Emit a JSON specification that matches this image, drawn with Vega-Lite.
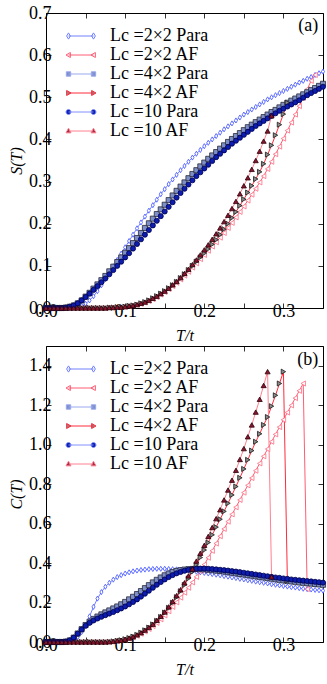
{
"$schema":"https://vega.github.io/schema/vega-lite/v6.json",
"padding":{"left":8,"top":3,"right":4,"bottom":4},
"spacing":1,
"config":{
 "font":"Liberation Serif",
 "view":{"stroke":"black","strokeWidth":1},
 "axis":{"domain":false,"grid":false,"tickColor":"black","tickSize":-5,"tickWidth":0.8,"labelFlush":false,"labelOverlap":false,"labelFont":"Liberation Serif","labelFontSize":18,"labelColor":"black","labelPadding":2,"titleFont":"Liberation Serif","titleFontSize":16,"titleFontStyle":"italic","titleFontWeight":"normal","titleColor":"black","titlePadding":4}
},
"datasets":{
"S":[
{"s":"P2","T":0,"v":0},{"s":"P2","T":0.005,"v":0},{"s":"P2","T":0.01,"v":0},{"s":"P2","T":0.015,"v":0},{"s":"P2","T":0.02,"v":0},{"s":"P2","T":0.025,"v":0},{"s":"P2","T":0.03,"v":0},{"s":"P2","T":0.035,"v":0.001},{"s":"P2","T":0.04,"v":0.002},{"s":"P2","T":0.045,"v":0.005},{"s":"P2","T":0.05,"v":0.01},{"s":"P2","T":0.055,"v":0.018},{"s":"P2","T":0.06,"v":0.028},{"s":"P2","T":0.065,"v":0.04},{"s":"P2","T":0.07,"v":0.054},{"s":"P2","T":0.075,"v":0.069},{"s":"P2","T":0.08,"v":0.084},{"s":"P2","T":0.085,"v":0.099},{"s":"P2","T":0.09,"v":0.114},{"s":"P2","T":0.095,"v":0.129},{"s":"P2","T":0.1,"v":0.144},{"s":"P2","T":0.105,"v":0.159},{"s":"P2","T":0.11,"v":0.174},{"s":"P2","T":0.115,"v":0.189},{"s":"P2","T":0.12,"v":0.203},{"s":"P2","T":0.125,"v":0.217},{"s":"P2","T":0.13,"v":0.231},{"s":"P2","T":0.135,"v":0.244},{"s":"P2","T":0.14,"v":0.257},{"s":"P2","T":0.145,"v":0.27},{"s":"P2","T":0.15,"v":0.282},{"s":"P2","T":0.155,"v":0.294},{"s":"P2","T":0.16,"v":0.305},{"s":"P2","T":0.165,"v":0.316},{"s":"P2","T":0.17,"v":0.327},{"s":"P2","T":0.175,"v":0.337},{"s":"P2","T":0.18,"v":0.347},{"s":"P2","T":0.185,"v":0.357},{"s":"P2","T":0.19,"v":0.366},{"s":"P2","T":0.195,"v":0.375},{"s":"P2","T":0.2,"v":0.384},{"s":"P2","T":0.205,"v":0.392},{"s":"P2","T":0.21,"v":0.4},{"s":"P2","T":0.215,"v":0.408},{"s":"P2","T":0.22,"v":0.416},{"s":"P2","T":0.225,"v":0.424},{"s":"P2","T":0.23,"v":0.431},{"s":"P2","T":0.235,"v":0.438},{"s":"P2","T":0.24,"v":0.445},{"s":"P2","T":0.245,"v":0.452},{"s":"P2","T":0.25,"v":0.459},{"s":"P2","T":0.255,"v":0.465},{"s":"P2","T":0.26,"v":0.471},{"s":"P2","T":0.265,"v":0.477},{"s":"P2","T":0.27,"v":0.483},{"s":"P2","T":0.275,"v":0.489},{"s":"P2","T":0.28,"v":0.495},{"s":"P2","T":0.285,"v":0.5},{"s":"P2","T":0.29,"v":0.505},{"s":"P2","T":0.295,"v":0.51},{"s":"P2","T":0.3,"v":0.515},{"s":"P2","T":0.305,"v":0.52},{"s":"P2","T":0.31,"v":0.525},{"s":"P2","T":0.315,"v":0.53},{"s":"P2","T":0.32,"v":0.535},{"s":"P2","T":0.325,"v":0.539},{"s":"P2","T":0.33,"v":0.544},{"s":"P2","T":0.335,"v":0.548},{"s":"P2","T":0.34,"v":0.553},{"s":"P2","T":0.345,"v":0.557},{"s":"P2","T":0.35,"v":0.561},
{"s":"A2","T":0,"v":0},{"s":"A2","T":0.005,"v":0},{"s":"A2","T":0.01,"v":0},{"s":"A2","T":0.015,"v":0},{"s":"A2","T":0.02,"v":0},{"s":"A2","T":0.025,"v":0},{"s":"A2","T":0.03,"v":0},{"s":"A2","T":0.035,"v":0},{"s":"A2","T":0.04,"v":0},{"s":"A2","T":0.045,"v":0},{"s":"A2","T":0.05,"v":0},{"s":"A2","T":0.055,"v":0},{"s":"A2","T":0.06,"v":0},{"s":"A2","T":0.065,"v":0},{"s":"A2","T":0.07,"v":0},{"s":"A2","T":0.075,"v":0},{"s":"A2","T":0.08,"v":0.001},{"s":"A2","T":0.085,"v":0.001},{"s":"A2","T":0.09,"v":0.002},{"s":"A2","T":0.095,"v":0.002},{"s":"A2","T":0.1,"v":0.003},{"s":"A2","T":0.105,"v":0.004},{"s":"A2","T":0.11,"v":0.006},{"s":"A2","T":0.115,"v":0.008},{"s":"A2","T":0.12,"v":0.01},{"s":"A2","T":0.125,"v":0.013},{"s":"A2","T":0.13,"v":0.017},{"s":"A2","T":0.135,"v":0.021},{"s":"A2","T":0.14,"v":0.026},{"s":"A2","T":0.145,"v":0.032},{"s":"A2","T":0.15,"v":0.038},{"s":"A2","T":0.155,"v":0.045},{"s":"A2","T":0.16,"v":0.052},{"s":"A2","T":0.165,"v":0.06},{"s":"A2","T":0.17,"v":0.068},{"s":"A2","T":0.175,"v":0.077},{"s":"A2","T":0.18,"v":0.086},{"s":"A2","T":0.185,"v":0.096},{"s":"A2","T":0.19,"v":0.106},{"s":"A2","T":0.195,"v":0.116},{"s":"A2","T":0.2,"v":0.126},{"s":"A2","T":0.205,"v":0.136},{"s":"A2","T":0.21,"v":0.146},{"s":"A2","T":0.215,"v":0.156},{"s":"A2","T":0.22,"v":0.167},{"s":"A2","T":0.225,"v":0.178},{"s":"A2","T":0.23,"v":0.19},{"s":"A2","T":0.235,"v":0.202},{"s":"A2","T":0.24,"v":0.215},{"s":"A2","T":0.245,"v":0.228},{"s":"A2","T":0.25,"v":0.241},{"s":"A2","T":0.255,"v":0.255},{"s":"A2","T":0.26,"v":0.269},{"s":"A2","T":0.265,"v":0.283},{"s":"A2","T":0.27,"v":0.298},{"s":"A2","T":0.275,"v":0.313},{"s":"A2","T":0.28,"v":0.33},{"s":"A2","T":0.285,"v":0.347},{"s":"A2","T":0.29,"v":0.365},{"s":"A2","T":0.295,"v":0.383},{"s":"A2","T":0.3,"v":0.402},{"s":"A2","T":0.305,"v":0.421},{"s":"A2","T":0.31,"v":0.44},{"s":"A2","T":0.315,"v":0.459},{"s":"A2","T":0.32,"v":0.479},{"s":"A2","T":0.325,"v":0.499},{"s":"A2","T":0.33,"v":0.519},{"s":"A2","T":0.335,"v":0.539},{"s":"A2","T":0.34,"v":0.553},
{"s":"P4","T":0,"v":0},{"s":"P4","T":0.005,"v":0},{"s":"P4","T":0.01,"v":0},{"s":"P4","T":0.015,"v":0},{"s":"P4","T":0.02,"v":0},{"s":"P4","T":0.025,"v":0.001},{"s":"P4","T":0.03,"v":0.003},{"s":"P4","T":0.035,"v":0.006},{"s":"P4","T":0.04,"v":0.011},{"s":"P4","T":0.045,"v":0.018},{"s":"P4","T":0.05,"v":0.027},{"s":"P4","T":0.055,"v":0.036},{"s":"P4","T":0.06,"v":0.046},{"s":"P4","T":0.065,"v":0.056},{"s":"P4","T":0.07,"v":0.066},{"s":"P4","T":0.075,"v":0.076},{"s":"P4","T":0.08,"v":0.087},{"s":"P4","T":0.085,"v":0.098},{"s":"P4","T":0.09,"v":0.109},{"s":"P4","T":0.095,"v":0.12},{"s":"P4","T":0.1,"v":0.131},{"s":"P4","T":0.105,"v":0.142},{"s":"P4","T":0.11,"v":0.154},{"s":"P4","T":0.115,"v":0.166},{"s":"P4","T":0.12,"v":0.178},{"s":"P4","T":0.125,"v":0.19},{"s":"P4","T":0.13,"v":0.201},{"s":"P4","T":0.135,"v":0.212},{"s":"P4","T":0.14,"v":0.223},{"s":"P4","T":0.145,"v":0.234},{"s":"P4","T":0.15,"v":0.245},{"s":"P4","T":0.155,"v":0.256},{"s":"P4","T":0.16,"v":0.267},{"s":"P4","T":0.165,"v":0.278},{"s":"P4","T":0.17,"v":0.288},{"s":"P4","T":0.175,"v":0.298},{"s":"P4","T":0.18,"v":0.308},{"s":"P4","T":0.185,"v":0.318},{"s":"P4","T":0.19,"v":0.327},{"s":"P4","T":0.195,"v":0.336},{"s":"P4","T":0.2,"v":0.345},{"s":"P4","T":0.205,"v":0.354},{"s":"P4","T":0.21,"v":0.362},{"s":"P4","T":0.215,"v":0.37},{"s":"P4","T":0.22,"v":0.378},{"s":"P4","T":0.225,"v":0.386},{"s":"P4","T":0.23,"v":0.394},{"s":"P4","T":0.235,"v":0.401},{"s":"P4","T":0.24,"v":0.408},{"s":"P4","T":0.245,"v":0.415},{"s":"P4","T":0.25,"v":0.422},{"s":"P4","T":0.255,"v":0.429},{"s":"P4","T":0.26,"v":0.435},{"s":"P4","T":0.265,"v":0.441},{"s":"P4","T":0.27,"v":0.447},{"s":"P4","T":0.275,"v":0.453},{"s":"P4","T":0.28,"v":0.459},{"s":"P4","T":0.285,"v":0.465},{"s":"P4","T":0.29,"v":0.47},{"s":"P4","T":0.295,"v":0.476},{"s":"P4","T":0.3,"v":0.482},{"s":"P4","T":0.305,"v":0.487},{"s":"P4","T":0.31,"v":0.492},{"s":"P4","T":0.315,"v":0.497},{"s":"P4","T":0.32,"v":0.502},{"s":"P4","T":0.325,"v":0.507},{"s":"P4","T":0.33,"v":0.512},{"s":"P4","T":0.335,"v":0.517},{"s":"P4","T":0.34,"v":0.522},{"s":"P4","T":0.345,"v":0.527},{"s":"P4","T":0.35,"v":0.532},
{"s":"A4","T":0,"v":0},{"s":"A4","T":0.005,"v":0},{"s":"A4","T":0.01,"v":0},{"s":"A4","T":0.015,"v":0},{"s":"A4","T":0.02,"v":0},{"s":"A4","T":0.025,"v":0},{"s":"A4","T":0.03,"v":0},{"s":"A4","T":0.035,"v":0},{"s":"A4","T":0.04,"v":0},{"s":"A4","T":0.045,"v":0},{"s":"A4","T":0.05,"v":0},{"s":"A4","T":0.055,"v":0},{"s":"A4","T":0.06,"v":0},{"s":"A4","T":0.065,"v":0},{"s":"A4","T":0.07,"v":0},{"s":"A4","T":0.075,"v":0},{"s":"A4","T":0.08,"v":0.001},{"s":"A4","T":0.085,"v":0.001},{"s":"A4","T":0.09,"v":0.002},{"s":"A4","T":0.095,"v":0.002},{"s":"A4","T":0.1,"v":0.003},{"s":"A4","T":0.105,"v":0.005},{"s":"A4","T":0.11,"v":0.006},{"s":"A4","T":0.115,"v":0.008},{"s":"A4","T":0.12,"v":0.011},{"s":"A4","T":0.125,"v":0.014},{"s":"A4","T":0.13,"v":0.018},{"s":"A4","T":0.135,"v":0.023},{"s":"A4","T":0.14,"v":0.028},{"s":"A4","T":0.145,"v":0.034},{"s":"A4","T":0.15,"v":0.04},{"s":"A4","T":0.155,"v":0.047},{"s":"A4","T":0.16,"v":0.054},{"s":"A4","T":0.165,"v":0.062},{"s":"A4","T":0.17,"v":0.071},{"s":"A4","T":0.175,"v":0.08},{"s":"A4","T":0.18,"v":0.09},{"s":"A4","T":0.185,"v":0.1},{"s":"A4","T":0.19,"v":0.11},{"s":"A4","T":0.195,"v":0.12},{"s":"A4","T":0.2,"v":0.13},{"s":"A4","T":0.205,"v":0.14},{"s":"A4","T":0.21,"v":0.151},{"s":"A4","T":0.215,"v":0.162},{"s":"A4","T":0.22,"v":0.174},{"s":"A4","T":0.225,"v":0.187},{"s":"A4","T":0.23,"v":0.2},{"s":"A4","T":0.235,"v":0.214},{"s":"A4","T":0.24,"v":0.228},{"s":"A4","T":0.245,"v":0.243},{"s":"A4","T":0.25,"v":0.258},{"s":"A4","T":0.255,"v":0.274},{"s":"A4","T":0.26,"v":0.29},{"s":"A4","T":0.265,"v":0.306},{"s":"A4","T":0.27,"v":0.323},{"s":"A4","T":0.275,"v":0.342},{"s":"A4","T":0.28,"v":0.364},{"s":"A4","T":0.285,"v":0.386},{"s":"A4","T":0.29,"v":0.41},{"s":"A4","T":0.295,"v":0.435},{"s":"A4","T":0.3,"v":0.46},{"s":"A4","T":0.305,"v":0.487},
{"s":"P10","T":0,"v":0},{"s":"P10","T":0.005,"v":0},{"s":"P10","T":0.01,"v":0},{"s":"P10","T":0.015,"v":0},{"s":"P10","T":0.02,"v":0},{"s":"P10","T":0.025,"v":0.001},{"s":"P10","T":0.03,"v":0.003},{"s":"P10","T":0.035,"v":0.006},{"s":"P10","T":0.04,"v":0.011},{"s":"P10","T":0.045,"v":0.018},{"s":"P10","T":0.05,"v":0.026},{"s":"P10","T":0.055,"v":0.034},{"s":"P10","T":0.06,"v":0.043},{"s":"P10","T":0.065,"v":0.052},{"s":"P10","T":0.07,"v":0.061},{"s":"P10","T":0.075,"v":0.07},{"s":"P10","T":0.08,"v":0.08},{"s":"P10","T":0.085,"v":0.09},{"s":"P10","T":0.09,"v":0.1},{"s":"P10","T":0.095,"v":0.11},{"s":"P10","T":0.1,"v":0.12},{"s":"P10","T":0.105,"v":0.13},{"s":"P10","T":0.11,"v":0.141},{"s":"P10","T":0.115,"v":0.152},{"s":"P10","T":0.12,"v":0.163},{"s":"P10","T":0.125,"v":0.174},{"s":"P10","T":0.13,"v":0.185},{"s":"P10","T":0.135,"v":0.196},{"s":"P10","T":0.14,"v":0.207},{"s":"P10","T":0.145,"v":0.218},{"s":"P10","T":0.15,"v":0.229},{"s":"P10","T":0.155,"v":0.24},{"s":"P10","T":0.16,"v":0.251},{"s":"P10","T":0.165,"v":0.262},{"s":"P10","T":0.17,"v":0.273},{"s":"P10","T":0.175,"v":0.283},{"s":"P10","T":0.18,"v":0.293},{"s":"P10","T":0.185,"v":0.303},{"s":"P10","T":0.19,"v":0.313},{"s":"P10","T":0.195,"v":0.322},{"s":"P10","T":0.2,"v":0.331},{"s":"P10","T":0.205,"v":0.34},{"s":"P10","T":0.21,"v":0.349},{"s":"P10","T":0.215,"v":0.358},{"s":"P10","T":0.22,"v":0.366},{"s":"P10","T":0.225,"v":0.374},{"s":"P10","T":0.23,"v":0.382},{"s":"P10","T":0.235,"v":0.39},{"s":"P10","T":0.24,"v":0.397},{"s":"P10","T":0.245,"v":0.404},{"s":"P10","T":0.25,"v":0.411},{"s":"P10","T":0.255,"v":0.418},{"s":"P10","T":0.26,"v":0.425},{"s":"P10","T":0.265,"v":0.432},{"s":"P10","T":0.27,"v":0.438},{"s":"P10","T":0.275,"v":0.444},{"s":"P10","T":0.28,"v":0.45},{"s":"P10","T":0.285,"v":0.456},{"s":"P10","T":0.29,"v":0.462},{"s":"P10","T":0.295,"v":0.468},{"s":"P10","T":0.3,"v":0.473},{"s":"P10","T":0.305,"v":0.478},{"s":"P10","T":0.31,"v":0.483},{"s":"P10","T":0.315,"v":0.488},{"s":"P10","T":0.32,"v":0.493},{"s":"P10","T":0.325,"v":0.499},{"s":"P10","T":0.33,"v":0.505},{"s":"P10","T":0.335,"v":0.51},{"s":"P10","T":0.34,"v":0.515},{"s":"P10","T":0.345,"v":0.52},{"s":"P10","T":0.35,"v":0.525},
{"s":"A10","T":0,"v":0},{"s":"A10","T":0.005,"v":0},{"s":"A10","T":0.01,"v":0},{"s":"A10","T":0.015,"v":0},{"s":"A10","T":0.02,"v":0},{"s":"A10","T":0.025,"v":0},{"s":"A10","T":0.03,"v":0},{"s":"A10","T":0.035,"v":0},{"s":"A10","T":0.04,"v":0},{"s":"A10","T":0.045,"v":0},{"s":"A10","T":0.05,"v":0},{"s":"A10","T":0.055,"v":0},{"s":"A10","T":0.06,"v":0},{"s":"A10","T":0.065,"v":0},{"s":"A10","T":0.07,"v":0},{"s":"A10","T":0.075,"v":0},{"s":"A10","T":0.08,"v":0.001},{"s":"A10","T":0.085,"v":0.001},{"s":"A10","T":0.09,"v":0.002},{"s":"A10","T":0.095,"v":0.002},{"s":"A10","T":0.1,"v":0.003},{"s":"A10","T":0.105,"v":0.005},{"s":"A10","T":0.11,"v":0.006},{"s":"A10","T":0.115,"v":0.008},{"s":"A10","T":0.12,"v":0.011},{"s":"A10","T":0.125,"v":0.014},{"s":"A10","T":0.13,"v":0.018},{"s":"A10","T":0.135,"v":0.023},{"s":"A10","T":0.14,"v":0.028},{"s":"A10","T":0.145,"v":0.034},{"s":"A10","T":0.15,"v":0.04},{"s":"A10","T":0.155,"v":0.047},{"s":"A10","T":0.16,"v":0.055},{"s":"A10","T":0.165,"v":0.063},{"s":"A10","T":0.17,"v":0.072},{"s":"A10","T":0.175,"v":0.082},{"s":"A10","T":0.18,"v":0.092},{"s":"A10","T":0.185,"v":0.103},{"s":"A10","T":0.19,"v":0.114},{"s":"A10","T":0.195,"v":0.126},{"s":"A10","T":0.2,"v":0.138},{"s":"A10","T":0.205,"v":0.15},{"s":"A10","T":0.21,"v":0.163},{"s":"A10","T":0.215,"v":0.176},{"s":"A10","T":0.22,"v":0.19},{"s":"A10","T":0.225,"v":0.205},{"s":"A10","T":0.23,"v":0.22},{"s":"A10","T":0.235,"v":0.236},{"s":"A10","T":0.24,"v":0.253},{"s":"A10","T":0.245,"v":0.271},{"s":"A10","T":0.25,"v":0.29},{"s":"A10","T":0.255,"v":0.309},{"s":"A10","T":0.26,"v":0.329},{"s":"A10","T":0.265,"v":0.35},{"s":"A10","T":0.27,"v":0.372},{"s":"A10","T":0.275,"v":0.396},{"s":"A10","T":0.28,"v":0.42},{"s":"A10","T":0.285,"v":0.456}
],
"C":[
{"s":"P2","T":0,"v":0},{"s":"P2","T":0.005,"v":0},{"s":"P2","T":0.01,"v":0},{"s":"P2","T":0.015,"v":0},{"s":"P2","T":0.02,"v":0},{"s":"P2","T":0.025,"v":0},{"s":"P2","T":0.03,"v":0.002},{"s":"P2","T":0.035,"v":0.008},{"s":"P2","T":0.04,"v":0.025},{"s":"P2","T":0.045,"v":0.05},{"s":"P2","T":0.05,"v":0.085},{"s":"P2","T":0.055,"v":0.13},{"s":"P2","T":0.06,"v":0.178},{"s":"P2","T":0.065,"v":0.22},{"s":"P2","T":0.07,"v":0.253},{"s":"P2","T":0.075,"v":0.28},{"s":"P2","T":0.08,"v":0.3},{"s":"P2","T":0.085,"v":0.316},{"s":"P2","T":0.09,"v":0.329},{"s":"P2","T":0.095,"v":0.339},{"s":"P2","T":0.1,"v":0.347},{"s":"P2","T":0.105,"v":0.353},{"s":"P2","T":0.11,"v":0.358},{"s":"P2","T":0.115,"v":0.362},{"s":"P2","T":0.12,"v":0.365},{"s":"P2","T":0.125,"v":0.367},{"s":"P2","T":0.13,"v":0.369},{"s":"P2","T":0.135,"v":0.37},{"s":"P2","T":0.14,"v":0.371},{"s":"P2","T":0.145,"v":0.371},{"s":"P2","T":0.15,"v":0.371},{"s":"P2","T":0.155,"v":0.37},{"s":"P2","T":0.16,"v":0.369},{"s":"P2","T":0.165,"v":0.368},{"s":"P2","T":0.17,"v":0.366},{"s":"P2","T":0.175,"v":0.364},{"s":"P2","T":0.18,"v":0.362},{"s":"P2","T":0.185,"v":0.359},{"s":"P2","T":0.19,"v":0.356},{"s":"P2","T":0.195,"v":0.353},{"s":"P2","T":0.2,"v":0.35},{"s":"P2","T":0.205,"v":0.347},{"s":"P2","T":0.21,"v":0.344},{"s":"P2","T":0.215,"v":0.341},{"s":"P2","T":0.22,"v":0.338},{"s":"P2","T":0.225,"v":0.334},{"s":"P2","T":0.23,"v":0.331},{"s":"P2","T":0.235,"v":0.327},{"s":"P2","T":0.24,"v":0.324},{"s":"P2","T":0.245,"v":0.32},{"s":"P2","T":0.25,"v":0.317},{"s":"P2","T":0.255,"v":0.313},{"s":"P2","T":0.26,"v":0.31},{"s":"P2","T":0.265,"v":0.306},{"s":"P2","T":0.27,"v":0.303},{"s":"P2","T":0.275,"v":0.3},{"s":"P2","T":0.28,"v":0.297},{"s":"P2","T":0.285,"v":0.293},{"s":"P2","T":0.29,"v":0.29},{"s":"P2","T":0.295,"v":0.287},{"s":"P2","T":0.3,"v":0.284},{"s":"P2","T":0.305,"v":0.281},{"s":"P2","T":0.31,"v":0.278},{"s":"P2","T":0.315,"v":0.276},{"s":"P2","T":0.32,"v":0.273},{"s":"P2","T":0.325,"v":0.27},{"s":"P2","T":0.33,"v":0.268},{"s":"P2","T":0.335,"v":0.266},{"s":"P2","T":0.34,"v":0.264},{"s":"P2","T":0.345,"v":0.262},{"s":"P2","T":0.35,"v":0.26},
{"s":"A2","T":0,"v":0},{"s":"A2","T":0.005,"v":0},{"s":"A2","T":0.01,"v":0},{"s":"A2","T":0.015,"v":0},{"s":"A2","T":0.02,"v":0},{"s":"A2","T":0.025,"v":0},{"s":"A2","T":0.03,"v":0},{"s":"A2","T":0.035,"v":0},{"s":"A2","T":0.04,"v":0},{"s":"A2","T":0.045,"v":0},{"s":"A2","T":0.05,"v":0},{"s":"A2","T":0.055,"v":0},{"s":"A2","T":0.06,"v":0},{"s":"A2","T":0.065,"v":0},{"s":"A2","T":0.07,"v":0},{"s":"A2","T":0.075,"v":0},{"s":"A2","T":0.08,"v":0.001},{"s":"A2","T":0.085,"v":0.002},{"s":"A2","T":0.09,"v":0.005},{"s":"A2","T":0.095,"v":0.008},{"s":"A2","T":0.1,"v":0.012},{"s":"A2","T":0.105,"v":0.017},{"s":"A2","T":0.11,"v":0.024},{"s":"A2","T":0.115,"v":0.032},{"s":"A2","T":0.12,"v":0.042},{"s":"A2","T":0.125,"v":0.053},{"s":"A2","T":0.13,"v":0.066},{"s":"A2","T":0.135,"v":0.081},{"s":"A2","T":0.14,"v":0.097},{"s":"A2","T":0.145,"v":0.115},{"s":"A2","T":0.15,"v":0.135},{"s":"A2","T":0.155,"v":0.156},{"s":"A2","T":0.16,"v":0.178},{"s":"A2","T":0.165,"v":0.201},{"s":"A2","T":0.17,"v":0.225},{"s":"A2","T":0.175,"v":0.25},{"s":"A2","T":0.18,"v":0.275},{"s":"A2","T":0.185,"v":0.302},{"s":"A2","T":0.19,"v":0.33},{"s":"A2","T":0.195,"v":0.36},{"s":"A2","T":0.2,"v":0.392},{"s":"A2","T":0.205,"v":0.427},{"s":"A2","T":0.21,"v":0.462},{"s":"A2","T":0.215,"v":0.499},{"s":"A2","T":0.22,"v":0.536},{"s":"A2","T":0.225,"v":0.573},{"s":"A2","T":0.23,"v":0.61},{"s":"A2","T":0.235,"v":0.647},{"s":"A2","T":0.24,"v":0.683},{"s":"A2","T":0.245,"v":0.72},{"s":"A2","T":0.25,"v":0.757},{"s":"A2","T":0.255,"v":0.794},{"s":"A2","T":0.26,"v":0.831},{"s":"A2","T":0.265,"v":0.868},{"s":"A2","T":0.27,"v":0.905},{"s":"A2","T":0.275,"v":0.941},{"s":"A2","T":0.28,"v":0.978},{"s":"A2","T":0.285,"v":1.015},{"s":"A2","T":0.29,"v":1.052},{"s":"A2","T":0.295,"v":1.089},{"s":"A2","T":0.3,"v":1.126},{"s":"A2","T":0.305,"v":1.163},{"s":"A2","T":0.31,"v":1.199},{"s":"A2","T":0.315,"v":1.236},{"s":"A2","T":0.32,"v":1.273},{"s":"A2","T":0.325,"v":1.31},{"s":"A2","T":0.33,"v":0.268},
{"s":"P4","T":0,"v":0},{"s":"P4","T":0.005,"v":0},{"s":"P4","T":0.01,"v":0},{"s":"P4","T":0.015,"v":0},{"s":"P4","T":0.02,"v":0},{"s":"P4","T":0.025,"v":0.002},{"s":"P4","T":0.03,"v":0.008},{"s":"P4","T":0.035,"v":0.022},{"s":"P4","T":0.04,"v":0.043},{"s":"P4","T":0.045,"v":0.065},{"s":"P4","T":0.05,"v":0.086},{"s":"P4","T":0.055,"v":0.103},{"s":"P4","T":0.06,"v":0.117},{"s":"P4","T":0.065,"v":0.129},{"s":"P4","T":0.07,"v":0.14},{"s":"P4","T":0.075,"v":0.15},{"s":"P4","T":0.08,"v":0.16},{"s":"P4","T":0.085,"v":0.17},{"s":"P4","T":0.09,"v":0.18},{"s":"P4","T":0.095,"v":0.191},{"s":"P4","T":0.1,"v":0.203},{"s":"P4","T":0.105,"v":0.216},{"s":"P4","T":0.11,"v":0.229},{"s":"P4","T":0.115,"v":0.243},{"s":"P4","T":0.12,"v":0.258},{"s":"P4","T":0.125,"v":0.273},{"s":"P4","T":0.13,"v":0.288},{"s":"P4","T":0.135,"v":0.302},{"s":"P4","T":0.14,"v":0.315},{"s":"P4","T":0.145,"v":0.327},{"s":"P4","T":0.15,"v":0.338},{"s":"P4","T":0.155,"v":0.347},{"s":"P4","T":0.16,"v":0.354},{"s":"P4","T":0.165,"v":0.36},{"s":"P4","T":0.17,"v":0.364},{"s":"P4","T":0.175,"v":0.367},{"s":"P4","T":0.18,"v":0.369},{"s":"P4","T":0.185,"v":0.37},{"s":"P4","T":0.19,"v":0.37},{"s":"P4","T":0.195,"v":0.369},{"s":"P4","T":0.2,"v":0.368},{"s":"P4","T":0.205,"v":0.366},{"s":"P4","T":0.21,"v":0.364},{"s":"P4","T":0.215,"v":0.362},{"s":"P4","T":0.22,"v":0.36},{"s":"P4","T":0.225,"v":0.357},{"s":"P4","T":0.23,"v":0.354},{"s":"P4","T":0.235,"v":0.351},{"s":"P4","T":0.24,"v":0.348},{"s":"P4","T":0.245,"v":0.345},{"s":"P4","T":0.25,"v":0.342},{"s":"P4","T":0.255,"v":0.339},{"s":"P4","T":0.26,"v":0.336},{"s":"P4","T":0.265,"v":0.333},{"s":"P4","T":0.27,"v":0.33},{"s":"P4","T":0.275,"v":0.327},{"s":"P4","T":0.28,"v":0.324},{"s":"P4","T":0.285,"v":0.321},{"s":"P4","T":0.29,"v":0.318},{"s":"P4","T":0.295,"v":0.315},{"s":"P4","T":0.3,"v":0.312},{"s":"P4","T":0.305,"v":0.31},{"s":"P4","T":0.31,"v":0.307},{"s":"P4","T":0.315,"v":0.305},{"s":"P4","T":0.32,"v":0.302},{"s":"P4","T":0.325,"v":0.3},{"s":"P4","T":0.33,"v":0.298},{"s":"P4","T":0.335,"v":0.296},{"s":"P4","T":0.34,"v":0.294},{"s":"P4","T":0.345,"v":0.292},{"s":"P4","T":0.35,"v":0.29},
{"s":"A4","T":0,"v":0},{"s":"A4","T":0.005,"v":0},{"s":"A4","T":0.01,"v":0},{"s":"A4","T":0.015,"v":0},{"s":"A4","T":0.02,"v":0},{"s":"A4","T":0.025,"v":0},{"s":"A4","T":0.03,"v":0},{"s":"A4","T":0.035,"v":0},{"s":"A4","T":0.04,"v":0},{"s":"A4","T":0.045,"v":0},{"s":"A4","T":0.05,"v":0},{"s":"A4","T":0.055,"v":0},{"s":"A4","T":0.06,"v":0},{"s":"A4","T":0.065,"v":0},{"s":"A4","T":0.07,"v":0},{"s":"A4","T":0.075,"v":0},{"s":"A4","T":0.08,"v":0.001},{"s":"A4","T":0.085,"v":0.003},{"s":"A4","T":0.09,"v":0.006},{"s":"A4","T":0.095,"v":0.009},{"s":"A4","T":0.1,"v":0.014},{"s":"A4","T":0.105,"v":0.02},{"s":"A4","T":0.11,"v":0.027},{"s":"A4","T":0.115,"v":0.036},{"s":"A4","T":0.12,"v":0.047},{"s":"A4","T":0.125,"v":0.059},{"s":"A4","T":0.13,"v":0.073},{"s":"A4","T":0.135,"v":0.089},{"s":"A4","T":0.14,"v":0.107},{"s":"A4","T":0.145,"v":0.127},{"s":"A4","T":0.15,"v":0.149},{"s":"A4","T":0.155,"v":0.173},{"s":"A4","T":0.16,"v":0.199},{"s":"A4","T":0.165,"v":0.227},{"s":"A4","T":0.17,"v":0.257},{"s":"A4","T":0.175,"v":0.289},{"s":"A4","T":0.18,"v":0.322},{"s":"A4","T":0.185,"v":0.356},{"s":"A4","T":0.19,"v":0.391},{"s":"A4","T":0.195,"v":0.428},{"s":"A4","T":0.2,"v":0.466},{"s":"A4","T":0.205,"v":0.504},{"s":"A4","T":0.21,"v":0.543},{"s":"A4","T":0.215,"v":0.582},{"s":"A4","T":0.22,"v":0.622},{"s":"A4","T":0.225,"v":0.662},{"s":"A4","T":0.23,"v":0.703},{"s":"A4","T":0.235,"v":0.745},{"s":"A4","T":0.24,"v":0.788},{"s":"A4","T":0.245,"v":0.832},{"s":"A4","T":0.25,"v":0.877},{"s":"A4","T":0.255,"v":0.923},{"s":"A4","T":0.26,"v":0.97},{"s":"A4","T":0.265,"v":1.015},{"s":"A4","T":0.27,"v":1.055},{"s":"A4","T":0.275,"v":1.1},{"s":"A4","T":0.28,"v":1.14},{"s":"A4","T":0.285,"v":1.195},{"s":"A4","T":0.29,"v":1.25},{"s":"A4","T":0.295,"v":1.31},{"s":"A4","T":0.3,"v":1.37},{"s":"A4","T":0.305,"v":0.31},
{"s":"P10","T":0,"v":0},{"s":"P10","T":0.005,"v":0},{"s":"P10","T":0.01,"v":0},{"s":"P10","T":0.015,"v":0},{"s":"P10","T":0.02,"v":0},{"s":"P10","T":0.025,"v":0.002},{"s":"P10","T":0.03,"v":0.008},{"s":"P10","T":0.035,"v":0.022},{"s":"P10","T":0.04,"v":0.042},{"s":"P10","T":0.045,"v":0.063},{"s":"P10","T":0.05,"v":0.082},{"s":"P10","T":0.055,"v":0.097},{"s":"P10","T":0.06,"v":0.109},{"s":"P10","T":0.065,"v":0.119},{"s":"P10","T":0.07,"v":0.128},{"s":"P10","T":0.075,"v":0.136},{"s":"P10","T":0.08,"v":0.144},{"s":"P10","T":0.085,"v":0.152},{"s":"P10","T":0.09,"v":0.161},{"s":"P10","T":0.095,"v":0.17},{"s":"P10","T":0.1,"v":0.18},{"s":"P10","T":0.105,"v":0.191},{"s":"P10","T":0.11,"v":0.203},{"s":"P10","T":0.115,"v":0.216},{"s":"P10","T":0.12,"v":0.23},{"s":"P10","T":0.125,"v":0.245},{"s":"P10","T":0.13,"v":0.26},{"s":"P10","T":0.135,"v":0.275},{"s":"P10","T":0.14,"v":0.29},{"s":"P10","T":0.145,"v":0.304},{"s":"P10","T":0.15,"v":0.317},{"s":"P10","T":0.155,"v":0.329},{"s":"P10","T":0.16,"v":0.339},{"s":"P10","T":0.165,"v":0.348},{"s":"P10","T":0.17,"v":0.355},{"s":"P10","T":0.175,"v":0.361},{"s":"P10","T":0.18,"v":0.366},{"s":"P10","T":0.185,"v":0.369},{"s":"P10","T":0.19,"v":0.371},{"s":"P10","T":0.195,"v":0.372},{"s":"P10","T":0.2,"v":0.372},{"s":"P10","T":0.205,"v":0.371},{"s":"P10","T":0.21,"v":0.37},{"s":"P10","T":0.215,"v":0.368},{"s":"P10","T":0.22,"v":0.366},{"s":"P10","T":0.225,"v":0.364},{"s":"P10","T":0.23,"v":0.362},{"s":"P10","T":0.235,"v":0.359},{"s":"P10","T":0.24,"v":0.357},{"s":"P10","T":0.245,"v":0.354},{"s":"P10","T":0.25,"v":0.351},{"s":"P10","T":0.255,"v":0.348},{"s":"P10","T":0.26,"v":0.345},{"s":"P10","T":0.265,"v":0.342},{"s":"P10","T":0.27,"v":0.339},{"s":"P10","T":0.275,"v":0.336},{"s":"P10","T":0.28,"v":0.333},{"s":"P10","T":0.285,"v":0.33},{"s":"P10","T":0.29,"v":0.327},{"s":"P10","T":0.295,"v":0.325},{"s":"P10","T":0.3,"v":0.322},{"s":"P10","T":0.305,"v":0.32},{"s":"P10","T":0.31,"v":0.317},{"s":"P10","T":0.315,"v":0.315},{"s":"P10","T":0.32,"v":0.313},{"s":"P10","T":0.325,"v":0.311},{"s":"P10","T":0.33,"v":0.309},{"s":"P10","T":0.335,"v":0.307},{"s":"P10","T":0.34,"v":0.305},{"s":"P10","T":0.345,"v":0.303},{"s":"P10","T":0.35,"v":0.301},
{"s":"A10","T":0,"v":0},{"s":"A10","T":0.005,"v":0},{"s":"A10","T":0.01,"v":0},{"s":"A10","T":0.015,"v":0},{"s":"A10","T":0.02,"v":0},{"s":"A10","T":0.025,"v":0},{"s":"A10","T":0.03,"v":0},{"s":"A10","T":0.035,"v":0},{"s":"A10","T":0.04,"v":0},{"s":"A10","T":0.045,"v":0},{"s":"A10","T":0.05,"v":0},{"s":"A10","T":0.055,"v":0},{"s":"A10","T":0.06,"v":0},{"s":"A10","T":0.065,"v":0},{"s":"A10","T":0.07,"v":0},{"s":"A10","T":0.075,"v":0},{"s":"A10","T":0.08,"v":0.001},{"s":"A10","T":0.085,"v":0.003},{"s":"A10","T":0.09,"v":0.006},{"s":"A10","T":0.095,"v":0.009},{"s":"A10","T":0.1,"v":0.014},{"s":"A10","T":0.105,"v":0.02},{"s":"A10","T":0.11,"v":0.027},{"s":"A10","T":0.115,"v":0.036},{"s":"A10","T":0.12,"v":0.047},{"s":"A10","T":0.125,"v":0.06},{"s":"A10","T":0.13,"v":0.074},{"s":"A10","T":0.135,"v":0.09},{"s":"A10","T":0.14,"v":0.11},{"s":"A10","T":0.145,"v":0.13},{"s":"A10","T":0.15,"v":0.152},{"s":"A10","T":0.155,"v":0.178},{"s":"A10","T":0.16,"v":0.205},{"s":"A10","T":0.165,"v":0.235},{"s":"A10","T":0.17,"v":0.265},{"s":"A10","T":0.175,"v":0.3},{"s":"A10","T":0.18,"v":0.335},{"s":"A10","T":0.185,"v":0.37},{"s":"A10","T":0.19,"v":0.41},{"s":"A10","T":0.195,"v":0.45},{"s":"A10","T":0.2,"v":0.49},{"s":"A10","T":0.205,"v":0.535},{"s":"A10","T":0.21,"v":0.58},{"s":"A10","T":0.215,"v":0.625},{"s":"A10","T":0.22,"v":0.67},{"s":"A10","T":0.225,"v":0.72},{"s":"A10","T":0.23,"v":0.77},{"s":"A10","T":0.235,"v":0.82},{"s":"A10","T":0.24,"v":0.87},{"s":"A10","T":0.245,"v":0.925},{"s":"A10","T":0.25,"v":0.98},{"s":"A10","T":0.255,"v":1.04},{"s":"A10","T":0.26,"v":1.1},{"s":"A10","T":0.265,"v":1.165},{"s":"A10","T":0.27,"v":1.23},{"s":"A10","T":0.275,"v":1.3},{"s":"A10","T":0.28,"v":1.37},{"s":"A10","T":0.285,"v":0.33}
]
},
"vconcat":[
{
 "width":277,"height":295,
 "data":{"name":"S"},
 "layer":[
  {"mark":{"type":"line","strokeWidth":1},
   "encoding":{
    "x":{"field":"T","type":"quantitative","scale":{"domain":[0,0.35],"nice":false},"axis":{"orient":"bottom","values":[0,0.05,0.1,0.15,0.2,0.25,0.3,0.35],"labelExpr":"round(datum.value*20)%2==0 ? format(datum.value,'.1f') : ''","title":"T/t","labelPadding":-1,"titlePadding":7}},
    "y":{"field":"v","type":"quantitative","scale":{"domain":[0,0.7],"nice":false},"axis":{"orient":"left","values":[0,0.1,0.2,0.3,0.4,0.5,0.6,0.7],"format":".1f","title":"S(T)","labelPadding":0}},
    "color":{"field":"s","type":"nominal","scale":{"domain":["P2","A2","P4","A4","P10","A10"],"range":["#7080ff","#ff5c74","#99a8f0","#ff2a3c","#8090ff","#ff8090"]},"legend":null}
   }},
  {"mark":{"type":"point","filled":true,"strokeWidth":0.8,"size":26,"opacity":1},
   "encoding":{
    "x":{"field":"T","type":"quantitative","axis":null},
    "y":{"field":"v","type":"quantitative","axis":null},
    "shape":{"field":"s","type":"nominal","scale":{"domain":["P2","A2","P4","A4","P10","A10"],"range":["M0,-1L0.6,0L0,1L-0.6,0Z","triangle-left","square","triangle-right","circle","triangle-up"]},"legend":null},
    "fill":{"field":"s","type":"nominal","scale":{"domain":["P2","A2","P4","A4","P10","A10"],"range":["#ffffff","#ffffff","#7d8fc6","#8c8c8c","#0c1db0","#8a1530"]},"legend":null},
    "stroke":{"field":"s","type":"nominal","scale":{"domain":["P2","A2","P4","A4","P10","A10"],"range":["#3f51ff","#ff6b80","#2a2a3a","#1a1a1a","#00004a","#2a0008"]},"legend":null}
   }},
  {"transform":[{"filter":"datum.T > 1"}],
   "mark":{"type":"point","filled":true,"strokeWidth":1,"opacity":1},
   "encoding":{
    "x":{"field":"T","type":"quantitative","axis":{"orient":"top","labels":false,"title":null,"values":[0,0.05,0.1,0.15,0.2,0.25,0.3,0.35]}},
    "y":{"field":"v","type":"quantitative","axis":{"orient":"right","labels":false,"title":null,"values":[0,0.1,0.2,0.3,0.4,0.5,0.6,0.7]}},
    "shape":{"field":"s","type":"nominal","scale":{"domain":["P2","A2","P4","A4","P10","A10"],"range":[
      "M-2,0L2,0M-2,-0.5L-1.7,0L-2,0.5L-2.3,0ZM2,-0.5L2.3,0L2,0.5L1.7,0Z",
      "M-2,0L2,0M-2.4,0L-1.7,-0.4L-1.7,0.4ZM1.6,0L2.3,-0.4L2.3,0.4Z",
      "M-2,0L2,0M-2.35,-0.35L-1.65,-0.35L-1.65,0.35L-2.35,0.35ZM1.65,-0.35L2.35,-0.35L2.35,0.35L1.65,0.35Z",
      "M-2,0L2,0M-1.6,0L-2.3,-0.4L-2.3,0.4ZM2.4,0L1.7,-0.4L1.7,0.4Z",
      "M-2,0L2,0M-1.6,0A0.4,0.4,0,1,1,-2.4,0A0.4,0.4,0,1,1,-1.6,0ZM2.4,0A0.4,0.4,0,1,1,1.6,0A0.4,0.4,0,1,1,2.4,0Z",
      "M-2,0L2,0M-2,-0.45L-1.6,0.3L-2.4,0.3ZM2,-0.45L2.4,0.3L1.6,0.3Z"]},
     "legend":{"orient":"none","legendX":26,"legendY":14,"title":null,"symbolSize":156,"symbolStrokeWidth":1,"labelFont":"Liberation Serif","labelFontSize":18,"labelOffset":20,"rowPadding":1,"padding":0,"labelColor":"black","labelLimit":0,
      "labelExpr":"datum.value=='P2'?'Lc =2×2 Para':datum.value=='A2'?'Lc =2×2 AF':datum.value=='P4'?'Lc =4×2 Para':datum.value=='A4'?'Lc =4×2 AF':datum.value=='P10'?'Lc =10 Para':'Lc =10 AF'"}},
    "fill":{"field":"s","type":"nominal","scale":{"domain":["P2","A2","P4","A4","P10","A10"],"range":["#ffffff","#ffffff","#7d8fc6","#8c8c8c","#0c1db0","#8a1530"]}},
    "stroke":{"field":"s","type":"nominal","scale":{"domain":["P2","A2","P4","A4","P10","A10"],"range":["#7080ff","#ff5c74","#99a8f0","#ff2a3c","#8090ff","#ff8090"]}}
   }},
  {"data":{"values":[{"tag":"(a)"}]},
   "mark":{"type":"text","align":"right","baseline":"middle","fontSize":18,"font":"Liberation Serif","fill":"black","fontWeight":"normal"},
   "encoding":{"text":{"field":"tag","type":"nominal"},"x":{"datum":0.344,"type":"quantitative","axis":null},"y":{"datum":0.669,"type":"quantitative","axis":null}}}
 ],
 "resolve":{"scale":{"shape":"independent","fill":"independent","stroke":"independent"},"axis":{"x":"independent","y":"independent"}}
},
{
 "width":277,"height":296,
 "data":{"name":"C"},
 "layer":[
  {"mark":{"type":"line","strokeWidth":1},
   "encoding":{
    "x":{"field":"T","type":"quantitative","scale":{"domain":[0,0.35],"nice":false},"axis":{"orient":"bottom","values":[0,0.05,0.1,0.15,0.2,0.25,0.3,0.35],"labelExpr":"round(datum.value*20)%2==0 ? format(datum.value,'.1f') : ''","title":"T/t","labelPadding":-1,"titlePadding":7}},
    "y":{"field":"v","type":"quantitative","scale":{"domain":[0,1.5],"nice":false},"axis":{"orient":"left","values":[0,0.2,0.4,0.6,0.8,1.0,1.2,1.4],"format":".1f","title":"C(T)","labelPadding":0}},
    "color":{"field":"s","type":"nominal","scale":{"domain":["P2","A2","P4","A4","P10","A10"],"range":["#7080ff","#ff5c74","#99a8f0","#ff2a3c","#8090ff","#ff8090"]},"legend":null}
   }},
  {"mark":{"type":"point","filled":true,"strokeWidth":0.8,"size":26,"opacity":1},
   "encoding":{
    "x":{"field":"T","type":"quantitative","axis":null},
    "y":{"field":"v","type":"quantitative","axis":null},
    "shape":{"field":"s","type":"nominal","scale":{"domain":["P2","A2","P4","A4","P10","A10"],"range":["M0,-1L0.6,0L0,1L-0.6,0Z","triangle-left","square","triangle-right","circle","triangle-up"]},"legend":null},
    "fill":{"field":"s","type":"nominal","scale":{"domain":["P2","A2","P4","A4","P10","A10"],"range":["#ffffff","#ffffff","#7d8fc6","#8c8c8c","#0c1db0","#8a1530"]},"legend":null},
    "stroke":{"field":"s","type":"nominal","scale":{"domain":["P2","A2","P4","A4","P10","A10"],"range":["#3f51ff","#ff6b80","#2a2a3a","#1a1a1a","#00004a","#2a0008"]},"legend":null}
   }},
  {"transform":[{"filter":"datum.T > 1"}],
   "mark":{"type":"point","filled":true,"strokeWidth":1,"opacity":1},
   "encoding":{
    "x":{"field":"T","type":"quantitative","axis":{"orient":"top","labels":false,"title":null,"values":[0,0.05,0.1,0.15,0.2,0.25,0.3,0.35]}},
    "y":{"field":"v","type":"quantitative","axis":{"orient":"right","labels":false,"title":null,"values":[0,0.2,0.4,0.6,0.8,1.0,1.2,1.4]}},
    "shape":{"field":"s","type":"nominal","scale":{"domain":["P2","A2","P4","A4","P10","A10"],"range":[
      "M-2,0L2,0M-2,-0.5L-1.7,0L-2,0.5L-2.3,0ZM2,-0.5L2.3,0L2,0.5L1.7,0Z",
      "M-2,0L2,0M-2.4,0L-1.7,-0.4L-1.7,0.4ZM1.6,0L2.3,-0.4L2.3,0.4Z",
      "M-2,0L2,0M-2.35,-0.35L-1.65,-0.35L-1.65,0.35L-2.35,0.35ZM1.65,-0.35L2.35,-0.35L2.35,0.35L1.65,0.35Z",
      "M-2,0L2,0M-1.6,0L-2.3,-0.4L-2.3,0.4ZM2.4,0L1.7,-0.4L1.7,0.4Z",
      "M-2,0L2,0M-1.6,0A0.4,0.4,0,1,1,-2.4,0A0.4,0.4,0,1,1,-1.6,0ZM2.4,0A0.4,0.4,0,1,1,1.6,0A0.4,0.4,0,1,1,2.4,0Z",
      "M-2,0L2,0M-2,-0.45L-1.6,0.3L-2.4,0.3ZM2,-0.45L2.4,0.3L1.6,0.3Z"]},
     "legend":{"orient":"none","legendX":26,"legendY":14,"title":null,"symbolSize":156,"symbolStrokeWidth":1,"labelFont":"Liberation Serif","labelFontSize":18,"labelOffset":20,"rowPadding":1,"padding":0,"labelColor":"black","labelLimit":0,
      "labelExpr":"datum.value=='P2'?'Lc =2×2 Para':datum.value=='A2'?'Lc =2×2 AF':datum.value=='P4'?'Lc =4×2 Para':datum.value=='A4'?'Lc =4×2 AF':datum.value=='P10'?'Lc =10 Para':'Lc =10 AF'"}},
    "fill":{"field":"s","type":"nominal","scale":{"domain":["P2","A2","P4","A4","P10","A10"],"range":["#ffffff","#ffffff","#7d8fc6","#8c8c8c","#0c1db0","#8a1530"]}},
    "stroke":{"field":"s","type":"nominal","scale":{"domain":["P2","A2","P4","A4","P10","A10"],"range":["#7080ff","#ff5c74","#99a8f0","#ff2a3c","#8090ff","#ff8090"]}}
   }},
  {"data":{"values":[{"tag":"(b)"}]},
   "mark":{"type":"text","align":"right","baseline":"middle","fontSize":18,"font":"Liberation Serif","fill":"black","fontWeight":"normal"},
   "encoding":{"text":{"field":"tag","type":"nominal"},"x":{"datum":0.344,"type":"quantitative","axis":null},"y":{"datum":1.43,"type":"quantitative","axis":null}}}
 ],
 "resolve":{"scale":{"shape":"independent","fill":"independent","stroke":"independent"},"axis":{"x":"independent","y":"independent"}}
}
]
}
